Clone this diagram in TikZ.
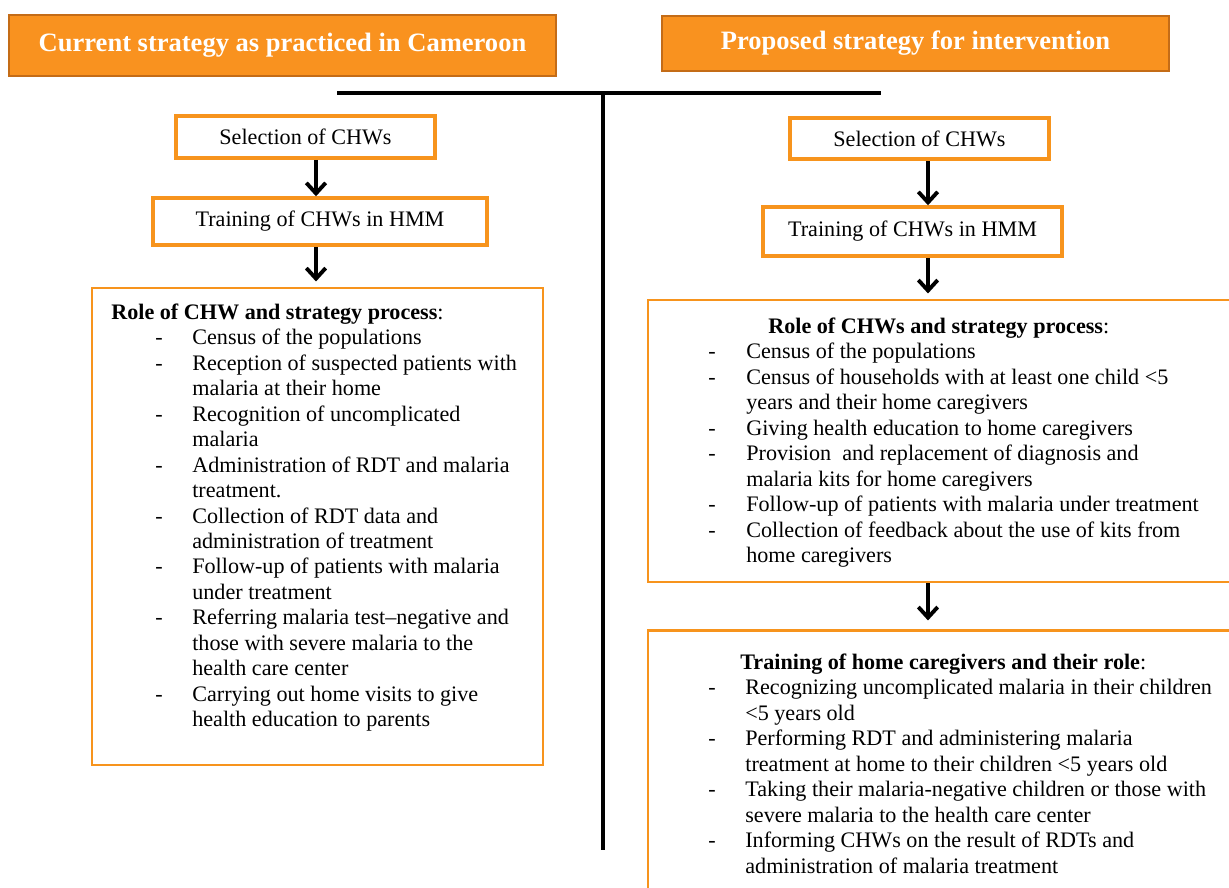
\documentclass[tikz,border=0pt]{standalone}
\usepackage{fontspec}
\setmainfont{Liberation Serif}
\usetikzlibrary{arrows.meta}

\definecolor{boxorange}{HTML}{F7941D}
\definecolor{headfill}{HTML}{F9921F}
\definecolor{headdraw}{HTML}{C46C17}

\tikzset{
  headbox/.style={draw=headdraw, line width=1.5pt, fill=headfill, text=white,
    font=\fontsize{15.1}{18}\selectfont\bfseries},
  smallbox/.style={draw=boxorange, line width=2pt, font=\fontsize{12.6}{14.5}\selectfont},
  bigbox/.style={draw=boxorange, line width=1.5pt},
  itemlist/.style={anchor=north west, inner sep=0pt, font=\fontsize{12.6}{14.5}\selectfont},
  arr/.style={-{Straight Barb[length=6pt,width=11pt]}, line width=2.2pt},
  bar/.style={line width=2.2pt}
}

\begin{document}
\begin{tikzpicture}[x=0.02cm, y=-0.02cm]
    \clip (0,0) rectangle (1229,887);

    % Column headings
    \node[headbox, minimum width=10.94cm, minimum height=1.22cm] (lhead) at (282.5,45.5)
        {Current strategy as practiced in Cameroon};
    \node[headbox, minimum width=10.14cm, minimum height=1.1cm] (rhead) at (915.5,43.5)
        {Proposed strategy for intervention};

    % Divider between the two columns
    \coordinate (barL) at (337,93);
    \coordinate (barR) at (881,93);
    \coordinate (barT) at (603,93);
    \coordinate (barB) at (603,850);
    \draw[bar] (barL) -- (barR);
    \draw[bar] (barT) -- (barB);

    % Left column
    \node[smallbox, minimum width=5.18cm, minimum height=0.84cm] (lsel) at (305.5,137) {Selection of CHWs};
    \node[smallbox, minimum width=6.68cm, minimum height=0.94cm] (ltrain) at (320,221.5) {Training of CHWs in HMM};
    \node[bigbox, minimum width=9.02cm, minimum height=9.54cm] (lrole) at (317.5,526.5) {};
    \node[itemlist] (lroletxt) at (111,301) {%
      \begin{tabular}{@{\hspace{0.88cm}}p{0.74cm}@{}l@{}}
        \multicolumn{2}{@{}l@{}}{\textbf{Role of CHW and strategy process}:}\\
        - & Census of the populations\\
        - & Reception of suspected patients with\\
          & malaria at their home\\
        - & Recognition of uncomplicated\\
          & malaria\\
        - & Administration of RDT and malaria\\
          & treatment.\\
        - & Collection of RDT data and\\
          & administration of treatment\\
        - & Follow-up of patients with malaria\\
          & under treatment\\
        - & Referring malaria test--negative and\\
          & those with severe malaria to the\\
          & health care center\\
        - & Carrying out home visits to give\\
          & health education to parents
      \end{tabular}};

    \coordinate (lx) at (316,0);
    \draw[arr] (lsel.south -| lx) -- (ltrain.north -| lx);
    \draw[arr] (ltrain.south -| lx) -- ([yshift=3pt]lrole.north -| lx);

    % Right column
    \node[smallbox, minimum width=5.18cm, minimum height=0.82cm] (rsel) at (919.5,138.5) {Selection of CHWs};
    \node[smallbox, minimum width=5.98cm, minimum height=0.98cm] (rtrain) at (912.5,231.5) {Training of CHWs in HMM};
    \node[bigbox, minimum width=11.68cm, minimum height=5.64cm] (rrole) at (940,441) {};
    \node[itemlist] (rroletxt) at (708,315) {%
      \begin{tabular}{@{}p{0.76cm}@{}l@{}}
        \multicolumn{2}{@{\hspace{1.2cm}}l@{}}{\textbf{Role of CHWs and strategy process}:}\\
        - & Census of the populations\\
        - & Census of households with at least one child <5\\
          & years and their home caregivers\\
        - & Giving health education to home caregivers\\
        - & Provision \ and replacement of diagnosis and\\
          & malaria kits for home caregivers\\
        - & Follow-up of patients with malaria under treatment\\
        - & Collection of feedback about the use of kits from\\
          & home caregivers
      \end{tabular}};
    \node[bigbox, minimum width=11.68cm, minimum height=5.38cm] (rcare) at (940,765) {};
    \node[itemlist] (rcaretxt) at (708,651) {%
      \begin{tabular}{@{}p{0.74cm}@{}l@{}}
        \multicolumn{2}{@{\hspace{0.64cm}}l@{}}{\textbf{Training of home caregivers and their role}:}\\
        - & Recognizing uncomplicated malaria in their children\\
          & <5 years old\\
        - & Performing RDT and administering malaria\\
          & treatment at home to their children <5 years old\\
        - & Taking their malaria-negative children or those with\\
          & severe malaria to the health care center\\
        - & Informing CHWs on the result of RDTs and\\
          & administration of malaria treatment
      \end{tabular}};

    \coordinate (rx) at (928,0);
    \draw[arr] (rsel.south -| rx) -- (rtrain.north -| rx);
    \draw[arr] (rtrain.south -| rx) -- ([yshift=3pt]rrole.north -| rx);
    \draw[arr] (rrole.south -| rx) -- ([yshift=5pt]rcare.north -| rx);

\end{tikzpicture}
\end{document}
